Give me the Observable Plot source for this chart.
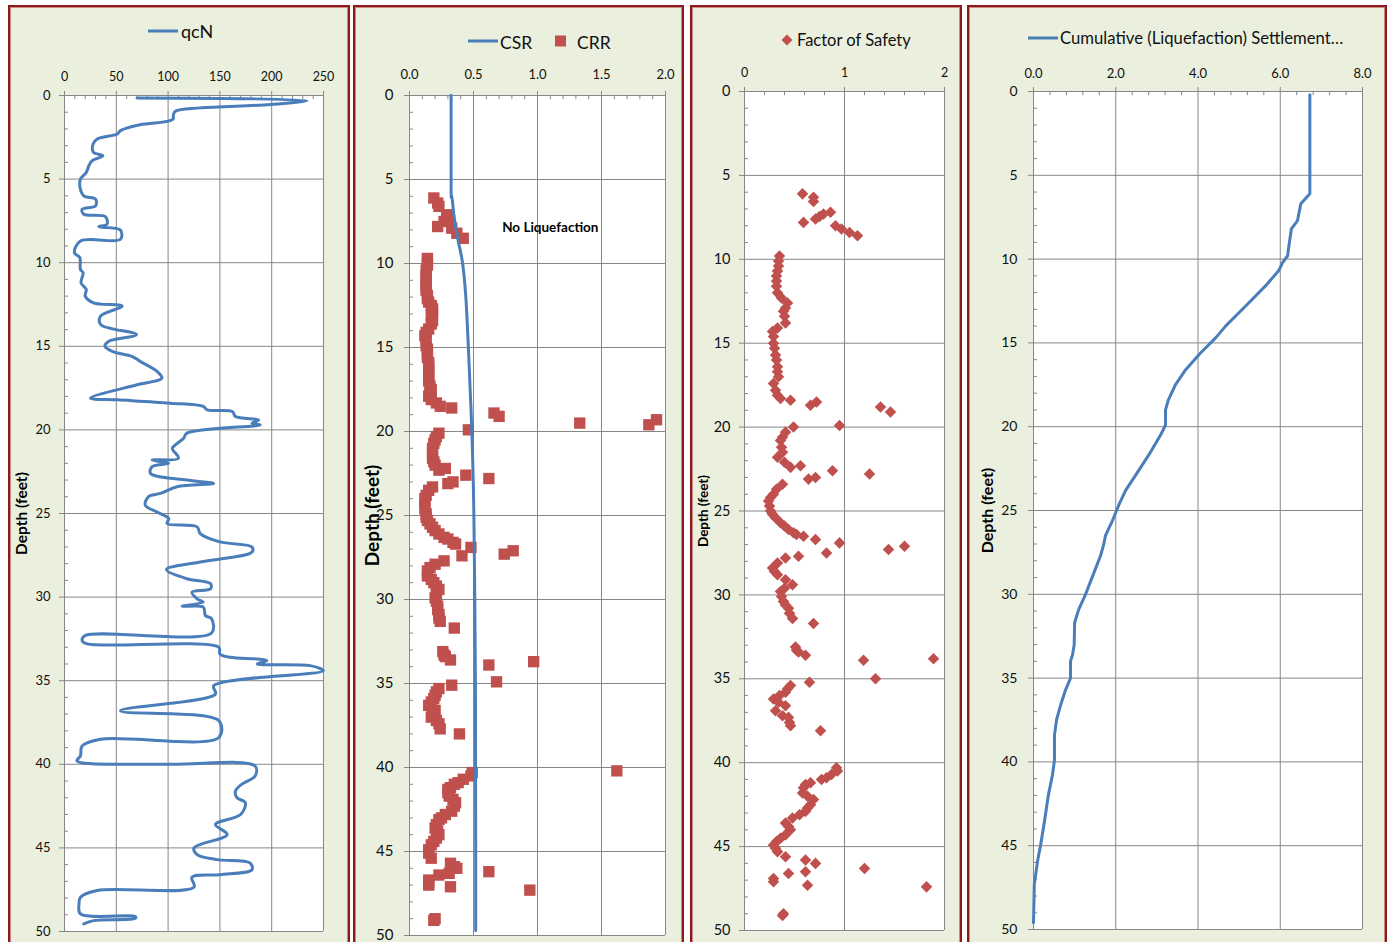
<!DOCTYPE html>
<html>
<head>
<meta charset="utf-8">
<script src="https://cdn.jsdelivr.net/npm/d3@7"></script>
<script src="https://cdn.jsdelivr.net/npm/@observablehq/plot@0.6"></script>
<style>
  body { margin: 0; background: #fff; width: 1395px; height: 942px; overflow: hidden; position: relative;
         font-family: Lato, "Open Sans", sans-serif; }
  .panel { position: absolute; top: 5px; height: 945px; box-sizing: border-box;
           border: 2px solid #8c1a1a; box-shadow: inset 0 0 0 1px #c98a8a; background: #ebf0de; }
  .panel svg { display: block; }
</style>
</head>
<body>
<div id="p1" class="panel" style="left:8px;width:342px"></div>
<div id="p2" class="panel" style="left:353px;width:331px"></div>
<div id="p3" class="panel" style="left:690px;width:272px"></div>
<div id="p4" class="panel" style="left:967px;width:420px"></div>
<script>
// ---- CPT normalised tip resistance qcN vs depth (ft)
const qcDepth = [0.15,0.3,0.54,0.74,0.94,1.2,1.4,1.55,1.75,2.1,2.3,2.6,2.9,3.4,3.6,3.9,4.2,4.6,5.0,5.5,6.0,6.2,6.6,6.8,7.1,7.25,7.7,7.85,8.05,8.6,8.7,9.4,9.7,10.4,10.6,11.2,11.6,12.0,12.4,12.6,13.2,13.7,14.3,14.7,15.0,15.3,15.6,15.9,16.5,16.9,17.3,18.1,18.2,18.4,18.6,18.8,18.9,19.2,19.4,19.6,19.7,20.2,20.5,20.9,21.1,21.7,21.8,22.0,22.2,22.6,23.0,23.2,23.4,23.8,24.0,24.5,24.9,25.3,25.6,25.8,26.2,26.7,27.0,27.3,27.9,28.35,28.9,29.2,29.5,29.7,30.1,30.3,30.55,30.6,31.1,31.3,32.15,32.3,32.6,32.8,33.0,33.4,33.6,33.7,33.8,34.0,34.1,34.4,35.3,35.8,36.8,37.4,38.4,38.5,38.9,39.5,39.8,40.0,40.1,40.7,41.2,41.6,42.0,42.3,43.0,43.6,44.2,45.0,45.4,45.7,45.9,46.3,46.6,46.75,47.35,47.55,47.95,48.35,48.95,49.1,49.2,49.35,49.55];
const qcValues = [70,234,199,131,107,105,105,99,73,54,51,31.5,27.6,28,37,26.7,23.5,21,15.4,15,18.6,30,30,17,18.6,39.5,41,33,54,54,15.4,9.6,14.8,15.4,18,16,21,20,28,55.6,34.7,35,69.5,42.8,39,46,65,73,89.4,94,70,25,51,102,134,137.6,162,165,187.5,181,189,118,115,107,104,110,84.6,100.6,84.6,83,118,144,108.7,92.6,81,78,89,100.6,99,128,131,150,181,181,131,98.4,118,141,141,123,128,134,113.5,134,136,142,142,20,17,22,149,150,160,186,195.5,186,237,250,144,145.7,54,149,149,34.7,17,15.4,12,99,184,184,171,165,166.5,174.6,170,145.7,157,125,128,147,179,181,150,123,125,31.5,15.4,14,15.4,68.5,68.5,28,18.6];

// ---- Cyclic stress ratio (line) and cyclic resistance ratio (points)
const csrDepth = [0,5.5,6,7,8,9,10,12,15,20,25,30,35,40,45,49.7];
const csrValues = [0.325,0.325,0.33,0.345,0.365,0.39,0.415,0.44,0.46,0.487,0.503,0.51,0.515,0.516,0.517,0.517];
const crrDepth = [6.1,6.4,6.6,7.1,7.3,7.5,7.8,7.9,8.2,8.5,
  9.7,9.9,10.1,10.4,10.7,10.9,11.2,11.4,11.6,11.9,12.1,12.3,12.5,12.7,12.9,13.1,13.4,13.6,13.9,14.1,14.3,14.6,14.9,15.1,15.4,15.6,15.9,16.1,16.3,16.6,16.8,17.0,17.3,17.5,17.7,17.9,18.1,18.3,18.5,18.6,18.9,19.1,19.5,19.6,19.3,19.9,
  20.1,20.3,20.5,20.7,21.0,21.3,21.6,21.8,22.0,22.3,22.2,22.6,22.8,23.0,23.1,23.3,23.5,23.8,24.0,24.3,24.6,24.9,25.1,25.3,25.5,25.7,25.9,26.1,26.3,26.4,26.6,26.7,26.9,27.1,27.3,27.4,
  27.7,27.9,28.1,28.3,28.6,28.8,29.0,29.2,29.4,29.6,29.9,30.1,30.4,30.6,30.9,31.1,31.3,31.7,
  33.1,33.3,33.4,33.6,33.7,33.9,34.9,35.1,35.3,35.5,35.7,35.9,36.1,36.3,36.6,36.8,37.0,37.2,37.4,37.7,38.0,
  40.2,40.3,40.5,40.7,40.9,41.0,41.2,41.3,41.5,41.7,41.9,42.1,42.3,42.6,42.8,43.0,43.1,43.4,43.6,43.8,44.0,44.2,44.4,44.6,44.9,45.1,45.4,45.7,45.9,46.0,46.2,46.3,46.4,46.7,46.9,47.0,47.1,47.3,49.0,49.1];
const crrValues = [0.19,0.22,0.23,0.29,0.31,0.27,0.22,0.33,0.37,0.42,
  0.14,0.14,0.14,0.13,0.13,0.13,0.13,0.13,0.13,0.14,0.14,0.15,0.17,0.18,0.18,0.17,0.18,0.17,0.15,0.13,0.12,0.13,0.13,0.14,0.14,0.14,0.15,0.15,0.15,0.15,0.15,0.15,0.16,0.17,0.16,0.15,0.17,0.21,0.24,0.33,0.66,0.70,1.33,1.87,1.93,0.46,
  0.23,0.21,0.20,0.19,0.18,0.18,0.18,0.19,0.20,0.23,0.28,0.44,0.62,0.34,0.30,0.18,0.15,0.13,0.12,0.12,0.12,0.13,0.13,0.14,0.16,0.18,0.20,0.23,0.27,0.30,0.34,0.36,0.48,0.81,0.74,0.41,
  0.27,0.20,0.16,0.14,0.14,0.17,0.19,0.21,0.23,0.21,0.20,0.21,0.22,0.22,0.23,0.23,0.24,0.35,
  0.26,0.27,0.28,0.32,0.97,0.62,0.68,0.33,0.23,0.21,0.20,0.19,0.17,0.15,0.20,0.18,0.17,0.21,0.23,0.24,0.39,
  1.62,0.49,0.48,0.42,0.38,0.35,0.32,0.30,0.30,0.31,0.34,0.36,0.35,0.33,0.28,0.25,0.23,0.21,0.20,0.22,0.23,0.21,0.19,0.17,0.15,0.15,0.17,0.32,0.35,0.37,0.62,0.31,0.23,0.15,0.15,0.15,0.32,0.94,0.20,0.19];

// ---- Factor of safety against liquefaction
const fsDepth = [6.1,6.3,6.55,7.2,7.3,7.45,7.6,7.8,8.0,8.2,8.4,8.6,
  9.8,10.1,10.4,10.7,11.0,11.3,11.6,12.0,12.3,12.6,12.9,13.1,13.4,13.8,14.1,14.3,14.6,15.0,15.3,15.7,16.0,16.4,16.7,17.0,17.4,17.8,18.1,18.3,18.4,18.7,18.5,18.8,19.1,19.9,
  20.0,20.3,20.6,20.8,21.2,21.5,21.8,22.1,22.4,22.3,22.6,22.8,23.0,23.1,23.4,23.7,24.0,24.2,24.4,24.7,25.0,25.2,25.4,25.7,25.9,26.1,26.3,26.4,26.5,26.7,26.9,27.1,27.3,27.5,27.7,
  27.8,28.1,28.4,28.6,28.8,29.1,29.4,29.6,29.8,30.1,30.4,30.6,30.8,31.1,31.4,31.7,
  33.1,33.3,33.4,33.6,33.8,33.9,35.0,35.2,35.4,35.6,35.8,36.0,36.2,36.4,36.6,36.9,37.2,37.3,37.6,37.8,38.1,
  40.3,40.5,40.7,40.9,41.0,41.2,41.3,41.5,41.8,42.0,42.2,42.5,42.7,42.9,43.1,43.3,43.6,43.8,44.0,44.3,44.5,44.7,44.9,45.1,45.3,45.6,45.8,46.0,46.3,46.5,46.6,46.9,47.1,47.3,47.4,49.0,49.1];
const fsValues = [0.58,0.69,0.69,0.86,0.79,0.75,0.71,0.59,0.91,0.97,1.05,1.13,
  0.35,0.34,0.34,0.33,0.32,0.32,0.32,0.33,0.37,0.43,0.41,0.39,0.40,0.41,0.33,0.28,0.29,0.29,0.30,0.31,0.32,0.33,0.33,0.34,0.29,0.31,0.33,0.36,0.46,0.66,0.72,1.36,1.46,0.95,
  0.49,0.41,0.38,0.36,0.37,0.38,0.33,0.40,0.46,0.56,0.88,1.25,0.71,0.64,0.38,0.32,0.29,0.26,0.24,0.25,0.26,0.28,0.31,0.36,0.40,0.44,0.49,0.52,0.59,0.71,0.95,1.60,1.44,0.82,0.54,
  0.41,0.33,0.28,0.30,0.33,0.41,0.48,0.40,0.36,0.37,0.39,0.41,0.44,0.45,0.48,0.69,
  0.51,0.52,0.54,0.61,1.89,1.19,1.31,0.65,0.46,0.43,0.41,0.35,0.29,0.34,0.41,0.31,0.38,0.44,0.45,0.46,0.76,
  0.92,0.93,0.87,0.82,0.77,0.66,0.61,0.59,0.58,0.63,0.69,0.66,0.63,0.61,0.55,0.48,0.41,0.44,0.46,0.41,0.36,0.32,0.29,0.31,0.33,0.41,0.61,0.71,1.20,0.61,0.44,0.29,0.29,0.63,1.82,0.39,0.38];

// ---- Cumulative liquefaction settlement (in) vs depth
const settleDepth = [0.2,6.1,6.7,7.7,8.2,9.4,9.8,10.2,10.7,11.6,12.8,14.0,14.7,15.6,16.6,17.5,18.4,19.0,19.9,20.5,21.7,22.9,23.8,24.7,25.6,26.5,27.1,27.7,28.9,30.1,30.9,31.7,33.0,33.6,34.0,35.0,35.7,36.6,37.5,38.4,39.9,40.8,42.0,43.5,45.0,45.9,47.3,49.6];
const settleValues = [6.72,6.72,6.5,6.42,6.27,6.2,6.18,6.06,5.96,5.64,5.16,4.67,4.43,4.06,3.7,3.45,3.28,3.21,3.21,3.09,2.8,2.48,2.24,2.07,1.92,1.75,1.7,1.63,1.44,1.25,1.1,1.0,0.99,0.95,0.9,0.9,0.78,0.66,0.56,0.51,0.51,0.46,0.36,0.27,0.17,0.1,0.02,0.0];

// ---- Axis ticks and labels
const depthTicks = [0,5,10,15,20,25,30,35,40,45,50];
const qcTicks = [0,50,100,150,200,250];
const ratioTicks = [0,0.5,1,1.5,2];
const fsTicks = [0,1,2];
const settleTicks = [0,2,4,6,8];
const depthLabel = "Depth (feet)";
const noteText = ["No Liquefaction"];
const noteX = [1.10];
const noteDepth = [7.86];

const GRID = "#878787";
const BLUE = "#4A7EBB";
const RED = "#C0504D";

const depthMinor = d3.range(0, 51).filter(d => d % 5 !== 0);
const minorBetween = (ticks, n) => {
  const out = [];
  for (let i = 0; i < ticks.length - 1; i++) {
    const step = (ticks[i + 1] - ticks[i]) / n;
    for (let k = 1; k < n; k++) out.push(ticks[i] + k * step);
  }
  return out;
};

const rows = (depths, values) => depths.map((d, i) => ({depth: d, v: values[i]}));

// Shared frame: white plot area, grey grid, outward major ticks, inward minor ticks
function depthFrame(c) {
  return [
    Plot.frame({fill: "white", stroke: null}),
    Plot.gridX(c.xTicks, {stroke: GRID, strokeOpacity: 1}),
    Plot.gridY(depthTicks, {stroke: GRID, strokeOpacity: 1}),
    Plot.ruleX(c.xMinor, {x: d => d, y1: 0, y2: 0.25, stroke: GRID}),
    Plot.ruleY(depthMinor, {y: d => d, x1: 0, x2: c.minorLen, stroke: GRID}),
    Plot.axisX(c.xTicks, {anchor: "top", tickSize: 5, tickPadding: c.padX, tickFormat: c.fmt,
      stroke: GRID, fill: "#111", fontSize: c.fsX, label: null}),
    Plot.axisY(depthTicks, {anchor: "left", tickSize: 5, tickPadding: c.padY,
      stroke: GRID, fill: "#111", fontSize: c.fsY, label: null}),
    Plot.text([depthLabel], {frameAnchor: "left", textAnchor: "middle", rotate: -90, dx: c.labelDx,
      fontWeight: "bold", fontSize: c.labelSize, fill: "#000"})
  ];
}

const baseStyle = {background: "transparent", fontFamily: "Lato, 'Open Sans', sans-serif", fontSize: "13px", color: "#111", overflow: "visible"};

function legend(width, draw) {
  const svg = d3.create("svg").attr("width", width).attr("height", 50)
    .style("display", "block").style("font-family", "Lato, 'Open Sans', sans-serif");
  draw(svg);
  return svg.node();
}
const legendLine = (svg, x, y) => svg.append("line").attr("x1", x).attr("x2", x + 30).attr("y1", y).attr("y2", y)
  .attr("stroke", BLUE).attr("stroke-width", 3);
const legendText = (svg, x, y, t, size) => svg.append("text").attr("x", x).attr("y", y)
  .attr("dominant-baseline", "central").attr("font-size", size).attr("fill", "#111").text(t);

const diamond = {draw(ctx, size) { const r = Math.sqrt(size) * 0.62625;
  ctx.moveTo(0, -r); ctx.lineTo(r, 0); ctx.lineTo(0, r); ctx.lineTo(-r, 0); ctx.closePath(); }};

// Panel 1: qcN
{
  const el = document.getElementById("p1");
  el.append(legend(338, svg => { legendLine(svg, 138, 24); legendText(svg, 171, 24, "qcN", 18); }));
  el.append(Plot.plot({
    width: 338, height: 884, marginLeft: 54, marginRight: 25, marginTop: 38, marginBottom: 10,
    style: baseStyle,
    x: {domain: [0, 250]}, y: {domain: [0, 50], reverse: true},
    marks: [
      ...depthFrame({xTicks: qcTicks, xMinor: minorBetween(qcTicks, 5), minorLen: 3.9, padX: 10, padY: 9,
        fmt: d3.format("d"), fsX: 12.5, fsY: 13, labelDx: -42, labelSize: 15.5}),
      Plot.line(rows(qcDepth, qcValues), {x: "v", y: "depth", stroke: BLUE, strokeWidth: 3, curve: "catmull-rom"})
    ]
  }));
}

// Panel 2: CSR / CRR
{
  const el = document.getElementById("p2");
  el.append(legend(327, svg => {
    legendLine(svg, 113, 34); legendText(svg, 145, 35, "CSR", 17.5);
    svg.append("rect").attr("x", 200).attr("y", 28.5).attr("width", 11).attr("height", 11).attr("fill", RED);
    legendText(svg, 222, 35, "CRR", 17.5);
  }));
  el.append(Plot.plot({
    width: 327, height: 884, marginLeft: 54, marginRight: 17, marginTop: 38, marginBottom: 6,
    style: baseStyle,
    x: {domain: [0, 2]}, y: {domain: [0, 50], reverse: true},
    marks: [
      ...depthFrame({xTicks: ratioTicks, xMinor: minorBetween(ratioTicks, 5), minorLen: 0.031, padX: 12, padY: 11,
        fmt: d3.format(".1f"), fsX: 13, fsY: 15, labelDx: -37, labelSize: 19}),
      Plot.dot(rows(crrDepth, crrValues), {x: "v", y: "depth", symbol: "square", r: 6.4, fill: RED, stroke: null}),
      Plot.line(rows(csrDepth, csrValues), {x: "v", y: "depth", stroke: BLUE, strokeWidth: 3, curve: "natural"}),
      Plot.text(noteText, {x: (d, i) => noteX[i], y: (d, i) => noteDepth[i], fontWeight: "bold", fontSize: 13.5, fill: "#000"})
    ]
  }));
}

// Panel 3: Factor of safety
{
  const el = document.getElementById("p3");
  el.append(legend(268, svg => {
    svg.append("path").attr("d", "M95,27.5L100.5,33L95,38.5L89.5,33Z").attr("fill", RED);
    legendText(svg, 105, 33, "Factor of Safety", 16.5);
  }));
  el.append(Plot.plot({
    width: 268, height: 884, marginLeft: 52, marginRight: 16, marginTop: 34, marginBottom: 11,
    style: baseStyle,
    x: {domain: [0, 2]}, y: {domain: [0, 50], reverse: true},
    marks: [
      ...depthFrame({xTicks: fsTicks, xMinor: minorBetween(fsTicks, 5), minorLen: 0.04, padX: 10, padY: 9,
        fmt: d3.format("d"), fsX: 12.5, fsY: 14.5, labelDx: -41, labelSize: 13.5}),
      Plot.dot(rows(fsDepth, fsValues), {x: "v", y: "depth", symbol: diamond, r: 5.2, fill: RED, stroke: null})
    ]
  }));
}

// Panel 4: cumulative settlement
{
  const el = document.getElementById("p4");
  el.append(legend(416, svg => { legendLine(svg, 59, 31); legendText(svg, 91, 31, "Cumulative (Liquefaction) Settlement\u2026", 16.7); }));
  el.append(Plot.plot({
    width: 416, height: 884, marginLeft: 64, marginRight: 23, marginTop: 34, marginBottom: 12,
    style: baseStyle,
    x: {domain: [0, 8]}, y: {domain: [0, 50], reverse: true},
    marks: [
      ...depthFrame({xTicks: settleTicks, xMinor: minorBetween(settleTicks, 5), minorLen: 0.097, padX: 9, padY: 11,
        fmt: d3.format(".1f"), fsX: 13, fsY: 14, labelDx: -46, labelSize: 16}),
      Plot.line(rows(settleDepth, settleValues), {x: "v", y: "depth", stroke: BLUE, strokeWidth: 3})
    ]
  }));
}
</script>
</body>
</html>
